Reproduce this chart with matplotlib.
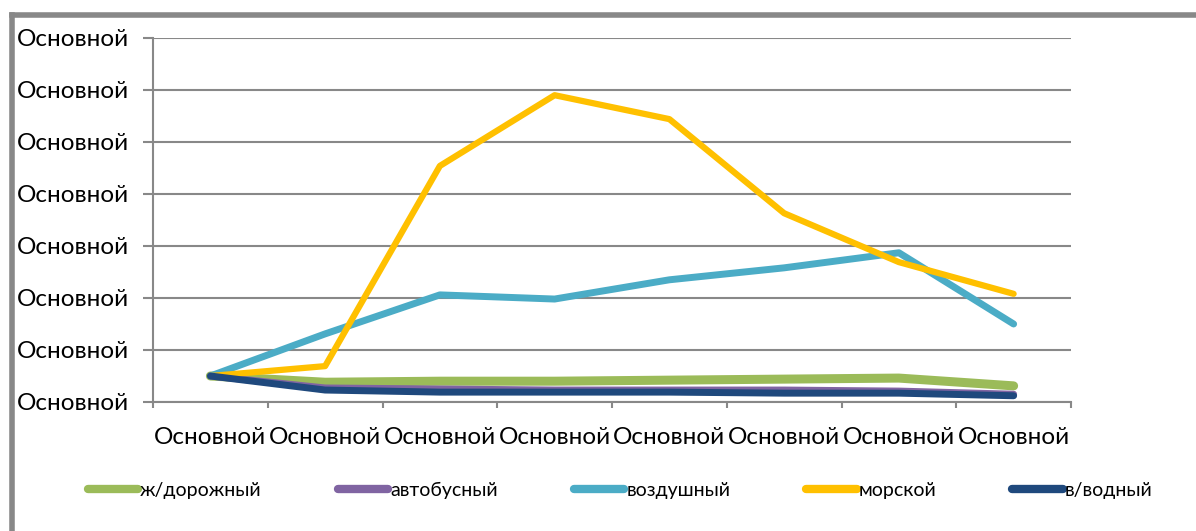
import matplotlib
matplotlib.use("Agg")
import matplotlib.pyplot as plt
from matplotlib.lines import Line2D
import numpy as np

categories = ["Основной"] * 8
ytick_labels = ["Основной"] * 8
series_names = ["ж/дорожный", "автобусный", "воздушный", "морской", "в/водный"]
zhd = [0.50, 0.38, 0.40, 0.40, 0.42, 0.44, 0.46, 0.31]
avtobus = [0.50, 0.27, 0.25, 0.23, 0.23, 0.23, 0.21, 0.15]
vozdush = [0.50, 1.31, 2.06, 1.98, 2.35, 2.58, 2.87, 1.50]
morskoy = [0.50, 0.69, 4.54, 5.90, 5.44, 3.63, 2.69, 2.08]
vvodny = [0.50, 0.23, 0.19, 0.19, 0.19, 0.17, 0.17, 0.12]
colors = ["#9BBB59", "#8064A2", "#4BACC6", "#FFC000", "#1F497D"]

plt.rcParams['font.family'] = ['Lato', 'DejaVu Sans']

W, H = 1196, 531
fig = plt.figure(figsize=(W/100, H/100), dpi=100)
ax = fig.add_axes([153/W, 1-402/H, (1071-153)/W, (402-38)/H])

x = np.arange(len(categories)) + 0.5
data = [zhd, avtobus, vozdush, morskoy, vvodny]
lws = [6.5, 5.0, 5.0, 4.5, 5.0]
for vals, c, name, lw in zip(data, colors, series_names, lws):
    ax.plot(x, vals, color=c, lw=lw, solid_capstyle='round', solid_joinstyle='round', label=name)

ax.set_xlim(0, 8)
ax.set_ylim(0, 7)
ax.set_yticks(range(8))
ax.set_yticklabels(ytick_labels, fontsize=17.5)
ax.set_xticks(range(9))
ax.set_xticklabels([])
ax.set_xticks(x, minor=True)
ax.set_xticklabels(categories, minor=True, fontsize=17.5)
ax.tick_params(axis='x', which='minor', length=0, pad=18)
ax.tick_params(axis='x', which='major', length=4.5, width=1.5, color='#888888', direction='out')
ax.tick_params(axis='y', length=7.2, width=1.5, color='#888888', direction='out', pad=10)
for s in ['top', 'right']:
    ax.spines[s].set_visible(False)
for s in ['left', 'bottom']:
    ax.spines[s].set_color('#888888')
    ax.spines[s].set_linewidth(1.5)
ax.grid(axis='y', color='#888888', lw=1.5)
ax.set_axisbelow(True)

# outer frame
fig.add_artist(Line2D([12/W, 1.0], [1-15/H, 1-15/H], transform=fig.transFigure, color='#888888', lw=4))
fig.add_artist(Line2D([12/W, 12/W], [0, 1-15/H], transform=fig.transFigure, color='#888888', lw=4))

handles, labels = ax.get_legend_handles_labels()
leg = fig.legend(handles, labels, loc='center', bbox_to_anchor=(620/W, 1-490/H), ncol=5,
                 frameon=False, fontsize=14, handlelength=2.6, handletextpad=0.1,
                 columnspacing=3.9)
for l in leg.get_lines():
    l.set_linewidth(6)

fig.savefig("out.png", dpi=100)
